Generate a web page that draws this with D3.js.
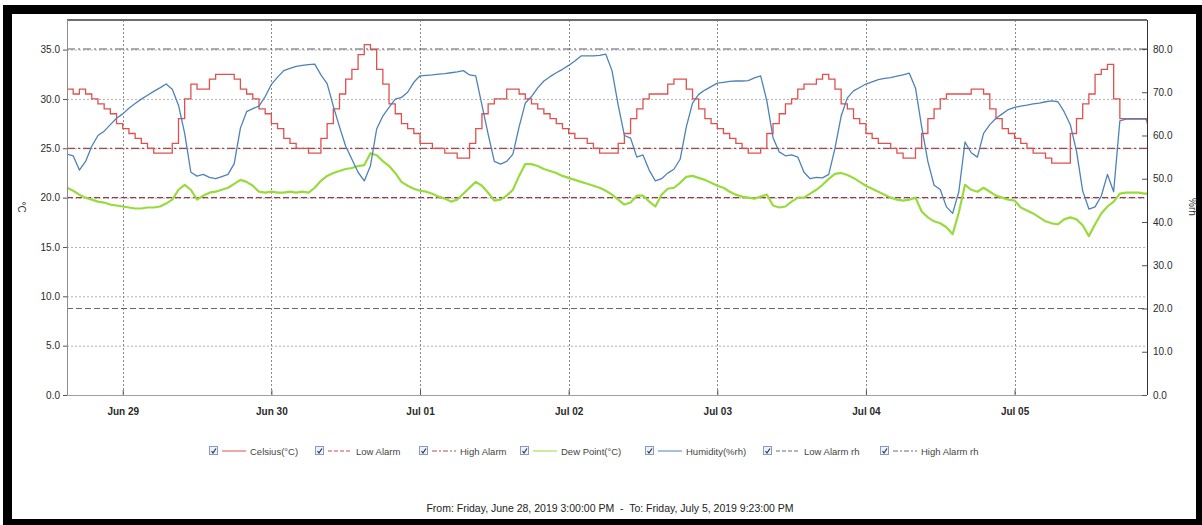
<!DOCTYPE html>
<html>
<head>
<meta charset="utf-8">
<script src="https://cdn.jsdelivr.net/npm/d3@7"></script>
<style>
  body { margin: 0; background: #fff; }
  svg { display: block; font-family: "Liberation Sans", Arial, sans-serif; }
</style>
</head>
<body>
<div id="chart"></div>
<script>
// logger window
const startTime = new Date(2019, 5, 28, 15, 0);
const endTime = new Date(2019, 6, 5, 21, 23);

// hourly readings from start, last value is the final reading at endTime
const celsius = [
  31, 30.5, 31, 30.5, 30, 29.5, 29, 28.5, 27.5, 27,
  26.5, 26, 25.5, 25, 24.5, 24.5, 24.5, 25.5, 28, 30,
  31.5, 31, 31, 32, 32.5, 32.5, 32.5, 32, 31, 30.5,
  30, 29, 28.5, 27.5, 27, 26, 25.5, 25, 25, 24.5,
  24.5, 26, 27.5, 29, 30.5, 32, 33, 34.5, 35.5, 35,
  33, 31.5, 29.5, 28.5, 27.5, 27, 26.5, 25.5, 25.5, 25,
  25, 24.5, 24.5, 24, 24, 25.5, 27, 28.5, 29.5, 30,
  30, 31, 31, 30.5, 30, 29.5, 29, 28.5, 28, 27.5,
  27, 26.5, 26, 26, 25.5, 25, 24.5, 24.5, 24.5, 25.5,
  26.5, 28, 29, 30, 30.5, 30.5, 30.5, 31.5, 32, 32,
  31, 30, 29, 28, 27.5, 27, 26.5, 26, 25.5, 25,
  24.5, 24.5, 25, 26.5, 27.5, 28.5, 29.5, 30, 31, 31.5,
  31.5, 32, 32.5, 32, 31, 29.5, 29, 28, 27.5, 26.5,
  26, 25.5, 25.5, 25, 24.5, 24, 24, 25, 26.5, 28,
  29, 30, 30.5, 30.5, 30.5, 30.5, 31, 31, 30.5, 29,
  28, 27, 26.5, 26, 25.5, 25, 24.5, 24.5, 24, 23.5,
  23.5, 23.5, 26.5, 28, 29.5, 30.5, 32.5, 33, 33.5, 30,
  28, 28, 28, 28, 28, 27.5
];

const dewPoint = [
  21, 20.7, 20.3, 20, 19.8, 19.6, 19.5, 19.3, 19.2, 19.1,
  19, 18.9, 18.9, 19, 19, 19.1, 19.4, 19.8, 20.8, 21.3,
  20.8, 19.8, 20.2, 20.5, 20.6, 20.8, 21, 21.4, 21.8, 21.6,
  21.2, 20.6, 20.5, 20.6, 20.5, 20.5, 20.6, 20.5, 20.6, 20.5,
  21, 21.7, 22.2, 22.5, 22.7, 22.9, 23, 23.2, 23.3, 24.5,
  24.3, 23.7, 23.2, 22.5, 21.6, 21.2, 20.9, 20.7, 20.6, 20.4,
  20.1, 19.9, 19.6, 19.8, 20.4, 21, 21.6, 21.2, 20.5, 19.7,
  19.8, 20.2, 20.8, 22.2, 23.4, 23.4, 23.2, 22.9, 22.7, 22.5,
  22.2, 22, 21.8, 21.6, 21.4, 21.2, 21, 20.7, 20.3, 19.8,
  19.3, 19.5, 20.2, 20.2, 19.6, 19.1, 20.3, 20.9, 21, 21.5,
  22.1, 22.2, 22, 21.8, 21.5, 21.2, 21, 20.6, 20.3, 20.1,
  20, 19.9, 20.1, 20.3, 19.2, 19, 19.1, 19.6, 20, 20,
  20.4, 20.8, 21.3, 21.9, 22.4, 22.5, 22.3, 22, 21.6, 21.2,
  20.9, 20.6, 20.3, 20, 19.8, 19.7, 19.8, 20, 18.6, 18,
  17.6, 17.4, 17, 16.3, 18.5, 21.3, 20.8, 20.6, 21, 20.6,
  20.2, 20, 19.8, 19.7, 19, 18.7, 18.4, 18, 17.6, 17.4,
  17.3, 17.8, 18, 17.8, 17.2, 16.1, 17.3, 18.4, 19.1, 19.6,
  20.4, 20.5, 20.5, 20.5, 20.4, 20.4
];

const humidity = [
  55.7, 55.3, 52, 54, 57.5, 60, 61, 62.5, 64, 65,
  66.3, 67.4, 68.4, 69.3, 70.2, 71, 71.9, 70.7, 67, 60.5,
  51.5, 50.6, 51, 50.3, 50, 50.5, 51, 53.5, 61.7, 65.5,
  66.2, 66.8, 69, 71.8, 73.5, 75, 75.5, 76, 76.2, 76.4,
  76.5, 74, 72, 66.8, 62, 57.5, 54.5, 51.5, 49.5, 53,
  61.5, 64.5, 66.5, 68.4, 68.8, 70, 72.3, 73.8, 73.9, 74,
  74.2, 74.3, 74.5, 74.7, 75, 74, 73.8, 67, 60.3, 54,
  53.4, 54, 55.7, 62, 67.5, 69, 71, 72.6, 73.6, 74.5,
  75.3, 76.2, 77.2, 78.4, 78.4, 78.4, 78.5, 78.8, 75, 67,
  60, 59.4, 55, 55.5, 52, 49.5, 50, 51.3, 52.2, 54.5,
  62, 67.5, 69.5, 70.5, 71.3, 72.1, 72.3, 72.5, 72.6, 72.6,
  72.7, 73.3, 73.8, 68, 59.5, 56.2, 55.3, 55.5, 55, 51.5,
  50, 50.3, 50.2, 51, 57, 64.5, 68.7, 70.3, 71.1, 71.9,
  72.4, 72.9, 73.2, 73.4, 73.7, 74, 74.4, 71, 62, 54,
  48.5, 47.5, 43.5, 42, 47, 58.5, 56, 55, 60.5, 62.5,
  64, 65, 66, 66.5, 66.8, 67, 67.3, 67.5, 67.8, 68,
  67.8, 65.5, 62.5, 56.4, 47.2, 43, 43.5, 46, 51, 47,
  63.4, 63.8, 63.8, 63.8, 63.8, 63.5
];

// alarm limits
const lowAlarm = 20;
const highAlarm = 25;
const lowAlarmRh = 20;
const highAlarmRh = 80;

// ticks
const tempTicks = [0, 5, 10, 15, 20, 25, 30, 35];
const rhTicks = [0, 10, 20, 30, 40, 50, 60, 70, 80];
const dayTicks = ["2019-06-29", "2019-06-30", "2019-07-01", "2019-07-02", "2019-07-03", "2019-07-04", "2019-07-05"];

const legendLabels = ["Celsius(°C)", "Low Alarm", "High Alarm", "Dew Point(°C)", "Humidity(%rh)", "Low Alarm rh", "High Alarm rh"];
const footerText = "From: Friday, June 28, 2019 3:00:00 PM  -  To: Friday, July 5, 2019 9:23:00 PM";

const width = 1202, height = 525;
const plot = { left: 67, right: 1147, top: 20, bottom: 395 };

const parseDay = d3.timeParse("%Y-%m-%d");
const timeAt = i => {
    const t = d3.timeHour.offset(startTime, i);
    return t > endTime ? endTime : t;
};

const x = d3.scaleTime().domain([startTime, endTime]).range([plot.left, plot.right]);
const yT = d3.scaleLinear().domain([0, 38]).range([plot.bottom, plot.top]);
const yH = d3.scaleLinear().domain([0, 86.7]).range([plot.bottom, plot.top]);

const svg = d3.create("svg")
    .attr("width", width)
    .attr("height", height)
    .attr("viewBox", [0, 0, width, height]);

// outer black frame
svg.append("rect").attr("width", width).attr("height", height).attr("fill", "#fff");
svg.append("rect").attr("x", 3).attr("y", 5).attr("width", width - 3).attr("height", height - 5).attr("fill", "#000");
svg.append("rect").attr("x", 12).attr("y", 14).attr("width", 1184).attr("height", 505).attr("fill", "#fff");

// horizontal grid (celsius ticks)
svg.append("g")
    .selectAll("line")
    .data(tempTicks.filter(d => d > 0))
    .join("line")
    .attr("x1", plot.left).attr("x2", plot.right)
    .attr("y1", d => yT(d) + 0.5).attr("y2", d => yT(d) + 0.5)
    .attr("stroke", "#b4b4b4")
    .attr("stroke-dasharray", "2,2");

// vertical day grid
svg.append("g")
    .selectAll("line")
    .data(dayTicks.map(parseDay))
    .join("line")
    .attr("x1", d => Math.round(x(d)) + 0.5).attr("x2", d => Math.round(x(d)) + 0.5)
    .attr("y1", plot.top).attr("y2", plot.bottom)
    .attr("stroke", "#8a8a8a")
    .attr("stroke-dasharray", "2,2");

// alarm lines
const alarms = [
    { v: yH(lowAlarmRh), stroke: "#5d6878", dash: "6,3" },
    { v: yH(highAlarmRh), stroke: "#5a5a66", dash: "8,3,2,3" },
    { v: yT(lowAlarm), stroke: "#9c3b46", dash: "6,3" },
    { v: yT(highAlarm), stroke: "#9c4a4a", dash: "8,3,2,3" }
];
svg.append("g")
    .selectAll("line")
    .data(alarms)
    .join("line")
    .attr("x1", plot.left).attr("x2", plot.right)
    .attr("y1", d => d.v).attr("y2", d => d.v)
    .attr("stroke", d => d.stroke)
    .attr("stroke-width", 1.2)
    .attr("stroke-dasharray", d => d.dash);

// series
const idx = d3.range(celsius.length);

const lineT = d3.line()
    .x(i => x(timeAt(i)))
    .y(i => yT(celsius[i]))
    .curve(d3.curveStepAfter);

const lineDew = d3.line()
    .x(i => x(timeAt(i)))
    .y(i => yT(dewPoint[i]));

const lineRh = d3.line()
    .x(i => x(timeAt(i)))
    .y(i => yH(humidity[i]));

svg.append("path")
    .attr("d", lineDew(idx))
    .attr("fill", "none")
    .attr("stroke", "#98db3c")
    .attr("stroke-width", 2.2)
    .attr("stroke-linejoin", "round");

svg.append("path")
    .attr("d", lineT(idx))
    .attr("fill", "none")
    .attr("stroke", "#e0504f")
    .attr("stroke-width", 1.3);

svg.append("path")
    .attr("d", lineRh(idx))
    .attr("fill", "none")
    .attr("stroke", "#4d82b8")
    .attr("stroke-width", 1.3)
    .attr("stroke-linejoin", "round");

// frame
svg.append("line").attr("x1", plot.left).attr("x2", plot.right).attr("y1", plot.top).attr("y2", plot.top)
    .attr("stroke", "#6e6e6e").attr("stroke-width", 2);
svg.append("line").attr("x1", plot.left).attr("x2", plot.right).attr("y1", plot.bottom + 0.5).attr("y2", plot.bottom + 0.5)
    .attr("stroke", "#a0a0a0");
svg.append("line").attr("x1", plot.left + 0.5).attr("x2", plot.left + 0.5).attr("y1", plot.top).attr("y2", plot.bottom)
    .attr("stroke", "#8c8c8c");
svg.append("line").attr("x1", plot.right + 0.5).attr("x2", plot.right + 0.5).attr("y1", plot.top).attr("y2", plot.bottom)
    .attr("stroke", "#333");

// axes
const styleAxis = (g, size, weight) => {
    g.select(".domain").remove();
    g.selectAll(".tick line").attr("stroke", "#555");
    g.selectAll("text")
        .attr("fill", "#2a2a2a")
        .attr("font-size", size)
        .attr("font-weight", weight)
        .attr("font-family", "'Liberation Sans', Arial, sans-serif");
};

svg.append("g")
    .attr("transform", `translate(${plot.left},0)`)
    .call(d3.axisLeft(yT).tickValues(tempTicks).tickFormat(d3.format(".1f")).tickSize(4).tickPadding(3))
    .call(g => styleAxis(g, 10, "normal"));

svg.append("g")
    .attr("transform", `translate(${plot.right},0)`)
    .call(d3.axisRight(yH).tickValues(rhTicks).tickFormat(d3.format(".1f")).tickSize(-5).tickPadding(6))
    .call(g => styleAxis(g, 10, "normal"));

svg.append("g")
    .attr("transform", `translate(0,${plot.bottom})`)
    .call(d3.axisBottom(x).tickValues(dayTicks.map(parseDay)).tickFormat(d3.timeFormat("%b %d")).tickSize(-5).tickPadding(13))
    .call(g => styleAxis(g, 10, "bold"));

// axis titles
svg.append("text")
    .attr("transform", "translate(18,207) rotate(90)")
    .attr("text-anchor", "middle")
    .attr("font-size", 10)
    .attr("fill", "#333")
    .text("°C");

svg.append("text")
    .attr("transform", "translate(1189,207) rotate(90)")
    .attr("text-anchor", "middle")
    .attr("font-size", 10)
    .attr("fill", "#333")
    .text("%rh");

// legend
const legendX = [209, 315, 419, 520, 645, 763, 880];
const legendStyle = [
    { stroke: "#e0504f", dash: null },
    { stroke: "#d04848", dash: "4,2" },
    { stroke: "#b05050", dash: "5,2,2,2" },
    { stroke: "#98db3c", dash: null },
    { stroke: "#4d82b8", dash: null },
    { stroke: "#5d6f88", dash: "4,2" },
    { stroke: "#6a6a80", dash: "5,2,2,2" }
];
const legendY = 451;

const item = svg.append("g")
    .selectAll("g")
    .data(legendLabels)
    .join("g")
    .attr("transform", (d, i) => `translate(${legendX[i]},${legendY})`);

item.append("rect")
    .attr("x", 0.5).attr("y", -4.5)
    .attr("width", 8).attr("height", 8)
    .attr("fill", "#eef2fb")
    .attr("stroke", "#8799c4");

item.append("path")
    .attr("d", "M2.5,0 L4,2 L7,-2.5")
    .attr("fill", "none")
    .attr("stroke", "#2d3550")
    .attr("stroke-width", 1.2);

item.append("line")
    .attr("x1", 13).attr("x2", 37)
    .attr("y1", 0).attr("y2", 0)
    .attr("stroke", (d, i) => legendStyle[i].stroke)
    .attr("stroke-dasharray", (d, i) => legendStyle[i].dash);

item.append("text")
    .attr("x", 41)
    .attr("y", 3.5)
    .attr("font-size", 9.5)
    .attr("fill", "#444")
    .text(d => d);

// footer
svg.append("text")
    .attr("x", 610)
    .attr("y", 512)
    .attr("text-anchor", "middle")
    .attr("font-size", 10.5)
    .attr("fill", "#222")
    .attr("xml:space", "preserve")
    .style("white-space", "pre")
    .text(footerText);

document.getElementById("chart").appendChild(svg.node());
</script>
</body>
</html>
